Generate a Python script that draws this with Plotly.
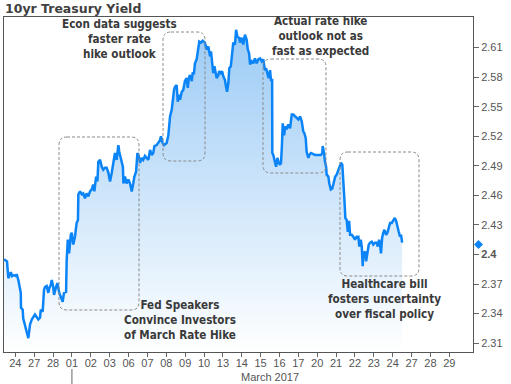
import plotly.graph_objects as go

# ---- data (trading-day index: 0 = Feb 24, 3 = Mar 01, ... 23 = Mar 29) ----
tick_labels = ['24', '27', '28', '01', '02', '03', '06', '07', '08', '09', '10', '13',
               '14', '15', '16', '17', '20', '21', '22', '23', '24', '27', '28', '29']
tick_days = list(range(len(tick_labels)))

y_ticks = [2.31, 2.34, 2.37, 2.40, 2.43, 2.46, 2.49, 2.52, 2.55, 2.58, 2.61]
y_tick_text = ['2.31', '2.34', '2.37', '<b>2.4</b>', '2.43', '2.46', '2.49', '2.52', '2.55', '2.58', '2.61']

day_pos = [-0.60, -0.44, -0.42, -0.37, -0.32, -0.24, -0.17, -0.11, 0.04, 0.07,
           0.16, 0.25, 0.29, 0.30, 0.39, 0.42, 0.60, 0.69, 0.78, 0.87,
           1.04, 1.13, 1.22, 1.31, 1.35, 1.45, 1.52, 1.57, 1.66, 1.75,
           1.80, 1.88, 1.93, 2.01, 2.05, 2.16, 2.23, 2.33, 2.41, 2.51,
           2.58, 2.69, 2.72, 2.78, 2.85, 2.94, 2.99, 3.07, 3.16, 3.25,
           3.32, 3.34, 3.43, 3.52, 3.60, 3.69, 3.78, 3.87, 3.96, 4.05,
           4.13, 4.19, 4.28, 4.35, 4.40, 4.49, 4.58, 4.66, 4.75, 4.84,
           4.93, 5.02, 5.11, 5.19, 5.28, 5.37, 5.46, 5.51, 5.59, 5.70,
           5.73, 5.81, 5.90, 5.99, 6.08, 6.17, 6.25, 6.31, 6.40, 6.47,
           6.54, 6.61, 6.70, 6.78, 6.87, 6.96, 7.05, 7.14, 7.23, 7.31,
           7.37, 7.49, 7.58, 7.67, 7.72, 7.81, 7.88, 8.02, 8.11, 8.20,
           8.29, 8.34, 8.41, 8.46, 8.55, 8.61, 8.68, 8.73, 8.82, 8.90,
           8.99, 9.08, 9.14, 9.19, 9.26, 9.35, 9.40, 9.47, 9.52, 9.61,
           9.65, 9.75, 9.84, 9.93, 10.05, 10.14, 10.23, 10.32, 10.37, 10.44,
           10.49, 10.55, 10.62, 10.67, 10.76, 10.80, 10.89, 10.96, 11.02, 11.11,
           11.17, 11.22, 11.29, 11.34, 11.42, 11.47, 11.55, 11.64, 11.70, 11.77,
           11.86, 11.91, 12.00, 12.08, 12.17, 12.26, 12.32, 12.39, 12.44, 12.53,
           12.61, 12.70, 12.79, 12.88, 12.97, 13.06, 13.14, 13.23, 13.29, 13.38,
           13.43, 13.50, 13.55, 13.61, 13.62, 13.67, 13.76, 13.82, 13.89, 13.96,
           14.03, 14.08, 14.13, 14.17, 14.24, 14.31, 14.38, 14.47, 14.56, 14.65,
           14.73, 14.82, 14.91, 15.00, 15.09, 15.18, 15.26, 15.32, 15.39, 15.44,
           15.53, 15.58, 15.67, 15.88, 16.19, 16.27, 16.29, 16.36, 16.41, 16.47,
           16.50, 16.59, 16.64, 16.72, 16.80, 16.85, 16.95, 17.03, 17.12, 17.21,
           17.26, 17.33, 17.38, 17.44, 17.49, 17.56, 17.62, 17.69, 17.74, 17.83,
           17.91, 18.00, 18.09, 18.18, 18.23, 18.31, 18.36, 18.41, 18.44, 18.53,
           18.59, 18.66, 18.73, 18.80, 18.89, 18.97, 19.06, 19.15, 19.21, 19.28,
           19.33, 19.38, 19.44, 19.50, 19.56, 19.65, 19.72, 19.79, 19.86, 19.95,
           20.04, 20.11, 20.18, 20.25, 20.32, 20.39, 20.44, 20.50]

yield_pct = [2.395, 2.393, 2.388, 2.376, 2.378, 2.382, 2.378, 2.379, 2.378, 2.380,
             2.374, 2.367, 2.361, 2.346, 2.344, 2.335, 2.320, 2.315, 2.329, 2.334,
             2.339, 2.337, 2.334, 2.336, 2.344, 2.342, 2.364, 2.367, 2.368, 2.361,
             2.366, 2.369, 2.374, 2.367, 2.359, 2.367, 2.371, 2.361, 2.356, 2.352,
             2.361, 2.362, 2.393, 2.415, 2.401, 2.420, 2.422, 2.410, 2.418, 2.432,
             2.435, 2.461, 2.464, 2.461, 2.462, 2.457, 2.462, 2.459, 2.464, 2.466,
             2.471, 2.464, 2.479, 2.474, 2.494, 2.496, 2.489, 2.486, 2.488, 2.488,
             2.483, 2.474, 2.483, 2.493, 2.503, 2.496, 2.511, 2.504, 2.496, 2.489,
             2.472, 2.479, 2.472, 2.476, 2.472, 2.464, 2.472, 2.479, 2.484, 2.503,
             2.500, 2.493, 2.498, 2.496, 2.500, 2.498, 2.496, 2.506, 2.501, 2.503,
             2.510, 2.511, 2.513, 2.516, 2.520, 2.513, 2.511, 2.513, 2.521, 2.540,
             2.547, 2.559, 2.567, 2.570, 2.572, 2.555, 2.562, 2.557, 2.565, 2.567,
             2.576, 2.579, 2.569, 2.579, 2.582, 2.576, 2.584, 2.584, 2.594, 2.598,
             2.604, 2.616, 2.615, 2.617, 2.615, 2.608, 2.611, 2.601, 2.606, 2.596,
             2.584, 2.591, 2.581, 2.579, 2.582, 2.586, 2.584, 2.586, 2.581, 2.577,
             2.570, 2.565, 2.574, 2.589, 2.591, 2.601, 2.615, 2.613, 2.628, 2.621,
             2.620, 2.615, 2.620, 2.613, 2.623, 2.618, 2.608, 2.604, 2.593, 2.596,
             2.594, 2.599, 2.594, 2.598, 2.599, 2.596, 2.598, 2.587, 2.589, 2.582,
             2.579, 2.587, 2.577, 2.577, 2.503, 2.501, 2.493, 2.489, 2.498, 2.493,
             2.491, 2.493, 2.511, 2.533, 2.521, 2.530, 2.527, 2.532, 2.528, 2.542,
             2.542, 2.540, 2.538, 2.537, 2.540, 2.535, 2.525, 2.523, 2.518, 2.504,
             2.498, 2.501, 2.503, 2.501, 2.501, 2.503, 2.510, 2.503, 2.494, 2.489,
             2.481, 2.479, 2.472, 2.466, 2.467, 2.471, 2.479, 2.481, 2.486, 2.489,
             2.493, 2.491, 2.479, 2.456, 2.437, 2.435, 2.423, 2.434, 2.420, 2.420,
             2.418, 2.415, 2.418, 2.418, 2.408, 2.415, 2.408, 2.388, 2.401, 2.403,
             2.393, 2.403, 2.410, 2.412, 2.413, 2.410, 2.412, 2.412, 2.408, 2.415,
             2.410, 2.401, 2.417, 2.422, 2.425, 2.420, 2.422, 2.427, 2.432, 2.432,
             2.435, 2.437, 2.434, 2.427, 2.423, 2.418, 2.420, 2.412]

last_value = 2.41

callouts = [
    "Econ data suggests<br>faster rate<br>hike outlook",
    "Actual rate hike<br>outlook not as<br>fast as expected",
    "Fed Speakers<br>Convince Investors<br>of March Rate Hike",
    "Healthcare bill<br>fosters uncertainty<br>over fiscal policy",
]

# ---- layout helpers (pixel -> paper) ----
W, H = 511, 384
L, R, T, B = 4, 38, 17, 32
PW, PH = W - L - R, H - T - B


def px(x):
    return (x - L) / PW


def py(y):
    return (H - B - y) / PH


def rrect(x0, y0, x1, y1, r=8):
    return (f"M {px(x0 + r)},{py(y0)} L {px(x1 - r)},{py(y0)} "
            f"Q {px(x1)},{py(y0)} {px(x1)},{py(y0 + r)} "
            f"L {px(x1)},{py(y1 - r)} Q {px(x1)},{py(y1)} {px(x1 - r)},{py(y1)} "
            f"L {px(x0 + r)},{py(y1)} Q {px(x0)},{py(y1)} {px(x0)},{py(y1 - r)} "
            f"L {px(x0)},{py(y0 + r)} Q {px(x0)},{py(y0)} {px(x0 + r)},{py(y0)} Z")


LINE_BLUE = '#0a84f7'
TICK_FONT = dict(family='Liberation Sans, Arial, sans-serif', size=11, color='#555555')
NOTE_FONT = dict(family='DejaVu Sans Condensed, Liberation Sans, sans-serif', size=11.6,
                 color='#3a3a3a', weight='bold')

fig = go.Figure()
fig.add_trace(go.Scatter(
    x=day_pos, y=yield_pct, mode='lines',
    line=dict(color=LINE_BLUE, width=2.5),
    fill='tozeroy',
    fillgradient=dict(type='vertical', start=2.30, stop=2.64,
                      colorscale=[[0, 'rgba(255,255,255,1)'], [1, '#98c9f5']]),
    hoverinfo='skip', showlegend=False,
))

box_line = dict(color='#8a8a8a', width=1, dash='3px,2px')
shapes = [
    dict(type='path', xref='paper', yref='paper', path=rrect(163, 32, 205, 161), line=box_line),
    dict(type='path', xref='paper', yref='paper', path=rrect(263, 59, 326, 173), line=box_line),
    dict(type='path', xref='paper', yref='paper', path=rrect(59, 137, 139, 310), line=box_line),
    dict(type='path', xref='paper', yref='paper', path=rrect(340, 152, 419, 276), line=box_line),
    # month separator under the "01" tick
    dict(type='line', xref='x', yref='paper', x0=3, x1=3, y0=py(369), y1=py(384),
         line=dict(color='#666666', width=1)),
    # last-value diamond on the right axis, placed at the last yield value
    dict(type='path', xref='paper', yref='y', xsizemode='pixel', ysizemode='pixel',
         xanchor=px(478.5), yanchor=last_value,
         path='M -4.5,0 L 0,4.5 L 4.5,0 L 0,-4.5 Z',
         fillcolor=LINE_BLUE, line=dict(width=0), layer='above'),
]

annotations = [
    dict(text='10yr Treasury Yield', xref='paper', yref='paper', x=px(3), y=py(9),
         xanchor='left', yanchor='middle', showarrow=False,
         font=dict(family='DejaVu Sans, Verdana, sans-serif', size=12.5,
                   color='#404040', weight='bold')),
    dict(text=callouts[0], x=px(119), y=py(39)),
    dict(text=callouts[1], x=px(320), y=py(36)),
    dict(text=callouts[2], x=px(180), y=py(320)),
    dict(text=callouts[3], x=px(384), y=py(299)),
    dict(text='March 2017', xref='paper', yref='paper', x=px(270), y=py(377),
         xanchor='center', yanchor='middle', showarrow=False, font=TICK_FONT),
]
for a in annotations[1:5]:
    a.update(xref='paper', yref='paper', xanchor='center', yanchor='middle',
             showarrow=False, align='center', font=NOTE_FONT)

fig.update_layout(
    width=W, height=H,
    margin=dict(l=L, r=R, t=T, b=B, pad=0),
    paper_bgcolor='white', plot_bgcolor='white',
    shapes=shapes, annotations=annotations,
    xaxis=dict(range=[-0.6, 24.255], tickmode='array', tickvals=tick_days,
               ticktext=tick_labels, ticks='outside', ticklen=4, tickcolor='#666666',
               ticklabelstandoff=-3,
               showgrid=False, zeroline=False, showline=True, linecolor='#555555',
               linewidth=1, mirror=True, tickfont=TICK_FONT),
    yaxis=dict(range=[2.301, 2.641], side='right', tickmode='array', tickvals=y_ticks,
               ticktext=y_tick_text, ticks='outside', ticklen=5, tickcolor='#666666',
               showgrid=False, zeroline=False, showline=True, linecolor='#555555',
               linewidth=1, mirror=True, tickfont=TICK_FONT),
)

fig.write_html("out.html", config={'displayModeBar': False},
               post_script="document.body.style.margin='0';")
